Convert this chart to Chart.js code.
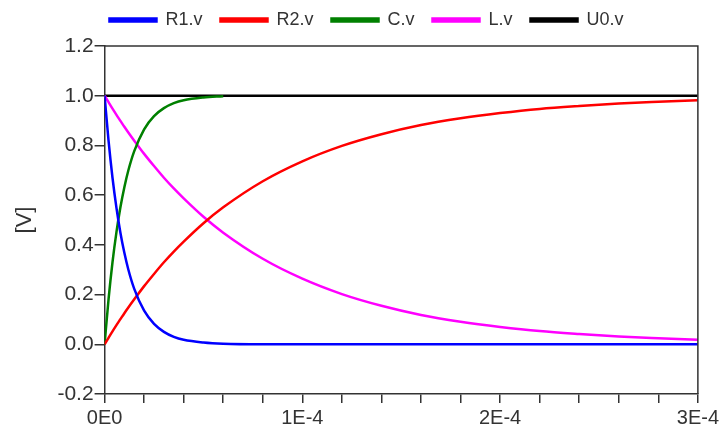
<!DOCTYPE html>
<html><head><meta charset="utf-8">
<script src="https://cdn.jsdelivr.net/npm/chart.js@4/dist/chart.umd.min.js"></script>
<style>html,body{margin:0;padding:0;background:#fff}#wrap{width:722px;height:430px}</style>
</head><body><div id="wrap"><canvas id="c"></canvas></div>
<script>
// time samples (s)
const timeFast = [0,2e-6,4e-6,6e-6,8e-6,1e-5,1.2e-5,1.5e-5,2e-5,2.5e-5,3e-5,3.5e-5,4e-5,5e-5,6e-5];
const timeAll = [0,2e-6,4e-6,6e-6,8e-6,1e-5,1.2e-5,1.5e-5,2e-5,2.5e-5,3e-5,3.5e-5,4e-5,5e-5,6e-5,
                 8e-5,1e-4,1.2e-4,1.4e-4,1.6e-4,1.8e-4,2e-4,2.2e-4,2.4e-4,2.6e-4,2.8e-4,3e-4];
const timeU0 = [0,3e-4];
// series values [V]
const r1V = [1,0.819,0.670,0.549,0.449,0.368,0.301,0.223,0.135,0.082,0.050,0.030,0.018,0.007,0.002,
             0,0,0,0,0,0,0,0,0,0,0,0];
const r2V = [0,0.026,0.052,0.077,0.101,0.125,0.148,0.181,0.234,0.283,0.330,0.373,0.413,0.487,0.551,
             0.656,0.736,0.798,0.845,0.882,0.909,0.930,0.947,0.959,0.969,0.976,0.982];
const cV  = [0,0.181,0.330,0.451,0.551,0.632,0.699,0.777,0.865,0.918,0.950,0.970,0.982,0.993,0.998];
const lV  = [1,0.974,0.948,0.923,0.899,0.875,0.852,0.819,0.766,0.717,0.670,0.627,0.587,0.513,0.449,
             0.344,0.264,0.202,0.155,0.118,0.091,0.070,0.053,0.041,0.031,0.024,0.018];
const u0V = [1,1];
const seriesNames = ['R1.v','R2.v','C.v','L.v','U0.v'];
const xTickLabels = ['0E0','1E-4','2E-4','3E-4'];
const yAxisTitle = '[V]';

const colors = ['#0000ff','#ff0000','#008000','#ff00ff','#000000'];
const pairs = (xs, ys) => xs.map((x,i)=>({x:x,y:ys[i]}));
const seriesData = [pairs(timeAll,r1V),pairs(timeAll,r2V),pairs(timeFast,cV),pairs(timeAll,lV),pairs(timeU0,u0V)];

const boxPlugin = {
  id:'box',
  beforeLayout(chart){
    const lg = chart.legend;
    if (lg && !lg._patched){
      const f = lg.fit;
      lg.fit = function(){ f.call(this); this.height += 7; };
      lg._patched = true;
    }
  },
  afterDatasetsDraw(chart){
    const a = chart.chartArea, ctx = chart.ctx;
    ctx.save();
    ctx.strokeStyle = '#333'; ctx.lineWidth = 1.5;
    ctx.beginPath();
    ctx.moveTo(a.left, a.top); ctx.lineTo(a.right, a.top); ctx.lineTo(a.right, a.bottom);
    ctx.stroke();
    ctx.restore();
  }
};

new Chart(document.getElementById('c'), {
  type:'line',
  data:{
    datasets: seriesNames.map((n,i)=>({
      label:n, data:seriesData[i], borderColor:colors[i], backgroundColor:colors[i],
      borderWidth:2.5, pointRadius:0, fill:false, cubicInterpolationMode:'monotone'
    }))
  },
  options:{
    responsive:true, maintainAspectRatio:false, animation:false,
    layout:{padding:{left:12,right:1,top:-7,bottom:-3}},
    plugins:{
      legend:{
        position:'top',
        labels:{boxWidth:47, boxHeight:3, padding:18, color:'#333',
                font:{family:'Liberation Sans', size:18}}
      },
      tooltip:{enabled:false}
    },
    scales:{
      x:{
        type:'linear', min:0, max:3e-4,
        grid:{drawOnChartArea:false, drawTicks:true, tickLength:9, color:'#333', lineWidth:1.5},
        border:{display:true, color:'#333', width:1.5},
        ticks:{
          stepSize:2e-5, autoSkip:false, maxRotation:0, color:'#333', padding:3,
          font:{family:'Liberation Sans', size:20},
          callback:(v)=>{
            const k = Math.round(v/1e-4);
            return Math.abs(v - k*1e-4) < 1e-9 ? xTickLabels[k] : '';
          }
        }
      },
      y:{
        min:-0.2, max:1.2,
        grid:{drawOnChartArea:false, drawTicks:true, tickLength:10, color:'#333', lineWidth:1.5},
        border:{display:true, color:'#333', width:1.5},
        title:{display:true, text:yAxisTitle, color:'#333', font:{family:'Liberation Sans', size:22}, padding:{top:0,bottom:18}},
        ticks:{stepSize:0.2, color:'#333', padding:1, font:{family:'Liberation Sans', size:21},
               callback:(v)=>(Math.abs(v)<1e-9?0:v).toFixed(1)}
      }
    }
  },
  plugins:[boxPlugin]
});
</script>
</body></html>
